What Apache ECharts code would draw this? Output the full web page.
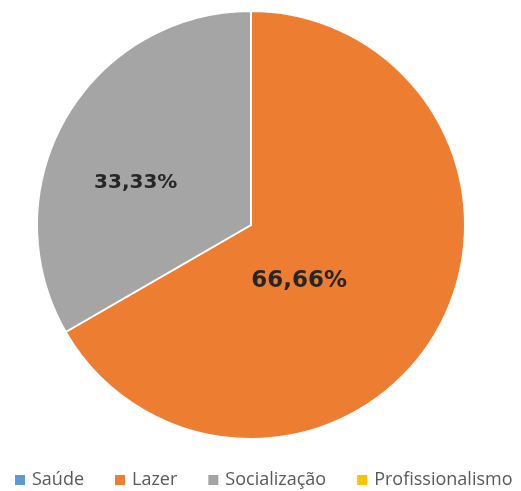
<!DOCTYPE html>
<html><head><meta charset="utf-8">
<script src="https://cdn.jsdelivr.net/npm/echarts@6/dist/echarts.min.js"></script>
<style>html,body{margin:0;padding:0;background:#fff}#c{width:521px;height:491px}</style>
</head><body><div id="c"></div>
<script>
const categories = ['Saúde', 'Lazer', 'Socialização', 'Profissionalismo'];
const values = [0, 66.66, 33.33, 0];
const labelTexts = ['', '66,66%', '33,33%', ''];
const colors = ['#5B9BD5', '#ED7D31', '#A5A5A5', '#FFC000'];
const labelShift = [[0, 0], [-47, 1], [-20, 13], [0, 0]];
const labelSizes = [0, 23, 20, 0];

const chart = echarts.init(document.getElementById('c'));
chart.setOption({
  animation: false,
  color: colors,
  legend: {
    top: 471,
    left: 13,
    width: 600,
    padding: 0,
    itemWidth: 12,
    itemHeight: 12,
    itemGap: 29,
    icon: 'rect',
    textStyle: { color: '#595959', fontSize: 18, fontFamily: 'Open Sans', padding: [0, 0, 0, 1] },
    data: categories
  },
  series: [{
    type: 'pie',
    center: [251, 225],
    radius: 214,
    startAngle: 90,
    clockwise: true,
    itemStyle: { borderColor: '#fff', borderWidth: 2 },
    label: {
      show: true,
      position: 'inside',
      color: '#262626',
      fontWeight: 'bold',
      fontFamily: 'DejaVu Sans',
      formatter: p => labelTexts[p.dataIndex]
    },
    labelLine: { show: false },
    labelLayout: p => ({ dx: labelShift[p.dataIndex][0], dy: labelShift[p.dataIndex][1] }),
    emphasis: { disabled: true },
    data: categories.map((n, i) => ({
      name: n, value: values[i],
      label: { fontSize: labelSizes[i] || 12 }
    }))
  }]
});
</script></body></html>
